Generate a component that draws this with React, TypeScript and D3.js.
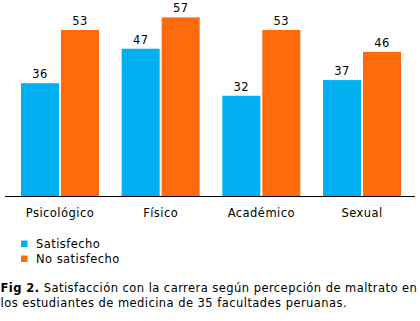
import React from "react";
import * as d3 from "d3";

const categories = ["Psicológico", "Físico", "Académico", "Sexual"];
const satisfecho = [36, 47, 32, 37];
const noSatisfecho = [53, 57, 53, 46];
const seriesNames = ["Satisfecho", "No satisfecho"];
const colors = ["#00B0F0", "#FF6A0A"];

const W = 420, H = 321;
const font = "Verdana, 'DejaVu Sans', sans-serif";
const ls = 0.45;

export default function App() {
  const x0 = d3.scaleBand().domain(categories).range([10, 412]).paddingInner(0.225).paddingOuter(0.109);
  const x1 = d3.scaleBand().domain(seriesNames).range([0, x0.bandwidth()]).paddingInner(0.05);
  const y = d3.scaleLinear().domain([0, 60]).range([196, 8]);
  const series = [satisfecho, noSatisfecho];
  return (
    <svg width={W} height={H} style={{ position: "absolute", left: 0, top: 0, background: "#fff" }} fontFamily={font}>
      {categories.map((c, i) => (
        <g key={c}>
          {series.map((s, j) => {
            const bx = x0(c)! + x1(seriesNames[j])!;
            return (
              <g key={j}>
                <rect x={bx} y={y(s[i])} width={x1.bandwidth()} height={y(0) - y(s[i])} fill={colors[j]} />
                <text x={bx + x1.bandwidth() / 2} y={y(s[i]) - 5} textAnchor="middle" fontSize={11.5} letterSpacing={ls} fill="#000">{s[i]}</text>
              </g>
            );
          })}
          <text x={x0(c)! + x0.bandwidth() / 2} y={216.5} textAnchor="middle" fontSize={11.5} letterSpacing={ls} fill="#000">{c}</text>
        </g>
      ))}
      <line x1={5} x2={415} y1={196.5} y2={196.5} stroke="#000" strokeWidth={1} />
      {seriesNames.map((n, j) => (
        <g key={n}>
          <rect x={21} y={240.5 + j * 15} width={6.5} height={6.5} fill={colors[j]} />
          <text x={36} y={248 + j * 15} fontSize={11.5} letterSpacing={ls} fill="#000">{n}</text>
        </g>
      ))}
      <text x={0.5} y={292} fontSize={11.5} letterSpacing={ls} fill="#000">
        <tspan fontWeight="bold">Fig 2.</tspan> Satisfacción con la carrera según percepción de maltrato en
      </text>
      <text x={0.5} y={307} fontSize={11.5} letterSpacing={ls} fill="#000">los estudiantes de medicina de 35 facultades peruanas.</text>
    </svg>
  );
}
